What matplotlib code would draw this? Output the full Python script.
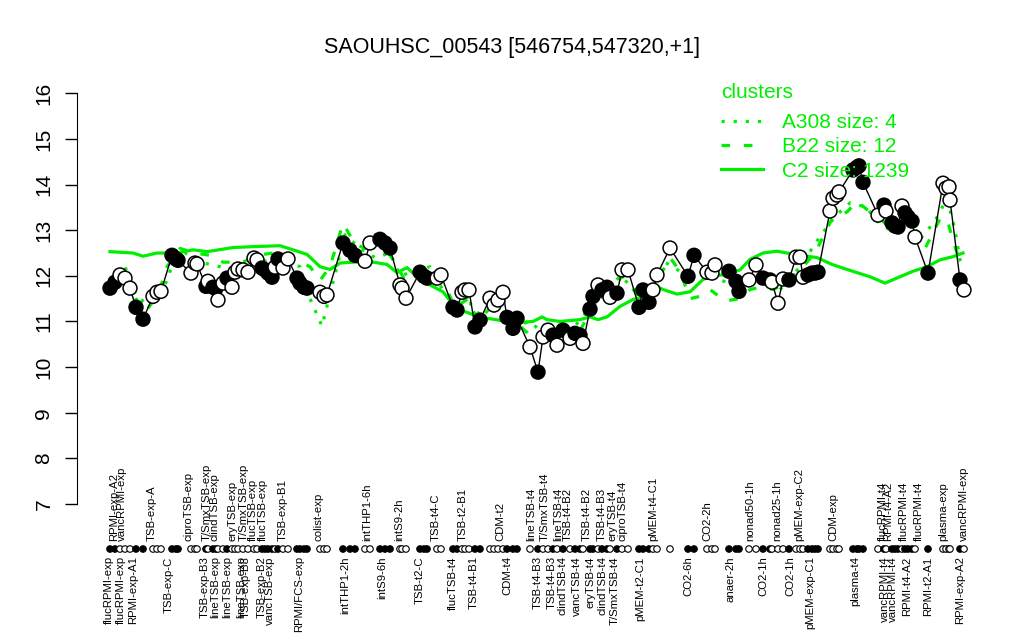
import matplotlib.pyplot as plt
from matplotlib.lines import Line2D

plt.rcParams['font.family'] = ['Liberation Sans', 'DejaVu Sans']

GREEN = '#00EE00'

title = "SAOUHSC_00543 [546754,547320,+1]"

# sample positions along the x axis, expression values, filled (1) or open (0) marker
pos = [110, 115, 120, 125, 130, 136, 143, 153, 157, 161, 172, 176, 178, 191, 195, 197,
       206, 208, 213, 216, 218, 223, 227, 232, 235, 238, 243, 248, 254, 257, 262, 265,
       268, 272, 275, 278, 283, 288, 297, 300, 304, 307, 320, 324, 327,
       343, 350, 355, 365, 370, 380, 385, 390, 400, 402, 406, 420, 424, 427, 437, 441,
       453, 457, 462, 465, 469, 475, 480, 490, 494, 498, 503, 507, 513, 517, 530, 538,
       543, 548, 553, 557, 563, 570, 575, 580, 583, 590, 593, 598, 602, 607, 610, 617,
       622, 628, 639, 643, 649, 653, 657, 670, 688, 694, 707, 712, 715, 729, 736, 739,
       749, 756, 763, 770,
       772, 778, 783, 789, 796, 800, 803, 808, 812, 815, 818, 830, 833, 837, 839, 853,
       857, 859, 863, 878, 884, 886, 892, 895, 898, 902, 905, 908, 912, 915, 928, 943,
       946, 949, 950, 960, 964]

expr = [11.73, 11.86, 12.02, 11.95, 11.73, 11.31, 11.05, 11.55, 11.64, 11.66, 12.45, 12.37, 12.34, 12.06, 12.28, 12.26,
        11.77, 11.88, 11.75, 11.73, 11.47, 11.84, 11.95, 11.75, 12.08, 12.15, 12.13, 12.08, 12.39, 12.35, 12.17, 12.13,
        12.06, 11.97, 12.19, 12.37, 12.17, 12.37, 11.95, 11.84, 11.75, 11.73, 11.64, 11.55, 11.58,
        12.72, 12.56, 12.45, 12.32, 12.72, 12.80, 12.72, 12.61, 11.80, 11.73, 11.51, 12.08, 11.99, 11.95, 11.95, 12.02,
        11.31, 11.25, 11.64, 11.69, 11.69, 10.88, 11.03, 11.51, 11.36, 11.47, 11.64, 11.09, 10.85, 11.07, 10.44, 9.89,
        10.66, 10.81, 10.70, 10.48, 10.81, 10.63, 10.74, 10.70, 10.52, 11.27, 11.55, 11.80, 11.69, 11.75, 11.53, 11.62,
        12.13, 12.13, 11.31, 11.69, 11.42, 11.69, 12.02, 12.61, 11.99, 12.45, 12.08, 12.06, 12.24, 12.10, 11.88, 11.66,
        11.91, 12.24, 11.95, 11.91,
        11.86, 11.40, 11.93, 11.91, 12.41, 12.41, 11.97, 12.02, 12.06, 12.06, 12.08, 13.42, 13.70, 13.77, 13.84, 14.32,
        14.38, 14.41, 14.05, 13.33, 13.55, 13.42, 13.16, 13.09, 13.07, 13.53, 13.38, 13.29, 13.20, 12.85, 12.06, 14.03,
        13.92, 13.95, 13.66, 11.91, 11.69]

filled = [1, 1, 0, 0, 0, 1, 1, 0, 0, 0, 1, 1, 1, 0, 0, 0,
          1, 0, 1, 1, 0, 0, 1, 0, 0, 0, 0, 0, 0, 0, 1, 1,
          1, 1, 0, 1, 0, 0, 1, 1, 1, 1, 0, 0, 0,
          1, 1, 1, 0, 0, 1, 1, 1, 0, 0, 0, 1, 1, 1, 0, 0,
          1, 1, 0, 0, 0, 1, 1, 0, 0, 0, 0, 1, 1, 1, 0, 1,
          0, 0, 1, 0, 1, 0, 1, 1, 0, 1, 1, 0, 1, 1, 0, 1,
          0, 0, 1, 1, 1, 0, 0, 0, 1, 1, 0, 0, 0, 1, 1, 1,
          0, 0, 1, 1,
          0, 0, 0, 1, 0, 0, 0, 1, 1, 1, 1, 0, 0, 0, 0, 1,
          1, 1, 1, 0, 1, 0, 1, 1, 1, 0, 1, 1, 1, 0, 1, 0,
          0, 0, 0, 1, 0]

# cluster profiles
c2_x = [110, 133, 143, 157, 177, 193, 207, 233, 253, 280, 293, 307, 320, 330, 340, 353, 373, 387,
        397, 407, 417, 430, 443, 457, 467, 480, 493, 507, 520, 533, 542, 547, 560, 580, 590, 598,
        607, 620, 633, 647, 657, 663, 677, 690, 703, 713, 727, 740, 750, 763, 777, 797, 817, 832,
        847, 857, 870, 885, 900, 913, 927, 940, 953, 963]
c2_y = [12.53, 12.50, 12.43, 12.50, 12.50, 12.57, 12.53, 12.62, 12.64, 12.66, 12.57, 12.47, 12.20, 12.14,
        12.28, 12.30, 12.30, 12.25, 12.07, 12.18, 11.98, 11.80, 11.65, 11.26, 11.20, 11.09, 11.05, 11.00,
        10.98, 11.00, 11.10, 11.04, 11.00, 11.04, 11.10, 11.04, 11.10, 11.33, 11.48, 11.55, 11.77, 11.70,
        11.60, 11.65, 11.92, 12.00, 12.03, 12.13, 12.36, 12.50, 12.54, 12.46, 12.40, 12.25, 12.14, 12.07,
        11.98, 11.84, 11.98, 12.10, 12.20, 12.35, 12.42, 12.50]

b22_x = [110, 120, 130, 136, 145, 155, 163, 167, 180, 195, 210, 223, 243, 257, 273, 290, 300, 310,
         320, 330, 343, 355, 365, 375, 385, 395, 405, 418, 430, 445, 455, 468, 478, 490, 505, 515,
         530, 540, 550, 565, 580, 590, 600, 610, 622, 630, 640, 650, 660, 670, 680, 690, 700, 710,
         725, 740, 750, 760, 773, 787, 803, 815, 832, 847, 857, 870, 883, 893, 910, 925, 940, 947,
         952, 957, 965]
b22_y = [11.9, 12.1, 11.8, 11.5, 11.2, 11.5, 11.9, 12.2, 12.6, 12.5, 12.45, 12.3, 12.3, 12.45, 12.5, 12.4,
         12.3, 12.2, 11.9, 12.2, 13.15, 12.7, 12.6, 12.9, 12.6, 12.3, 11.9, 12.1, 11.9, 11.8, 11.3, 11.5,
         11.0, 11.3, 11.2, 11.0, 10.7, 10.6, 10.8, 10.8, 10.8, 11.2, 11.6, 11.6, 12.0, 11.8, 11.5, 11.6,
         12.0, 12.4, 12.1, 11.5, 11.55, 11.7, 11.45, 11.5, 11.7, 11.75, 11.7, 11.85, 12.2, 12.5, 13.25,
         13.4, 13.63, 13.4, 13.2, 12.95, 13.1, 12.6, 13.25, 13.25, 12.85, 12.5, 12.3]

a308_x = [110, 125, 136, 145, 160, 170, 185, 200, 220, 240, 260, 280, 300, 310, 318, 322, 330, 345,
          360, 375, 390, 400, 415, 430, 445, 460, 470, 485, 500, 515, 530, 545, 560, 575, 590, 605,
          620, 635, 650, 665, 680, 700, 720, 740, 760, 780, 800, 820, 835, 850, 867, 875, 890, 913,
          920, 935, 947, 955, 960, 965]
a308_y = [11.8, 12.2, 11.6, 11.4, 11.5, 12.1, 12.5, 12.3, 12.2, 12.1, 12.3, 12.4, 12.2, 11.5, 11.1, 10.9,
          11.6, 12.9, 12.6, 12.4, 12.5, 12.0, 12.1, 12.2, 11.6, 11.4, 11.4, 11.0, 11.4, 10.9, 11.0, 10.7,
          10.9, 10.9, 11.3, 11.6, 12.0, 11.7, 11.7, 12.3, 12.1, 12.1, 11.9, 11.8, 11.9, 11.7, 12.2, 12.86,
          13.3, 13.6, 13.5, 13.23, 13.0, 13.17, 12.8, 13.2, 13.7, 13.0, 12.35, 12.2]

# sample names written above the strip and below it
top_x = [114, 122, 152, 189, 207, 215, 232, 244, 253, 263, 283, 319, 367, 399, 436, 463, 500,
         531, 545, 558, 568, 587, 602, 612, 622, 653, 707, 750, 777, 799, 833, 883, 888, 904,
         919, 943, 964]
top_labels = ['RPMI-exp-A2', 'vancRPMI-exp', 'TSB-exp-A', 'ciproTSB-exp', 'T/SmxTSB-exp',
              'clindTSB-exp', 'eryTSB-exp', 'T/SmxTSB-exp', 'flucTSB-exp', 'flucTSB-exp',
              'TSB-exp-B1', 'colist-exp', 'intTHP1-6h', 'intS9-2h', 'TSB-t4-C', 'TSB-t2-B1',
              'CDM-t2', 'lineTSB-t4', 'T/SmxTSB-t4', 'lineTSB-t4', 'TSB-t4-B2', 'TSB-t4-B2',
              'TSB-t4-B3', 'eryTSB-t4', 'ciproTSB-t4', 'pMEM-t4-C1', 'CO2-2h', 'nonad50-1h',
              'nonad25-1h', 'pMEM-exp-C2', 'CDM-exp', 'flucRPMI-t4', 'RPMI-t4-A2', 'flucRPMI-t4',
              'flucRPMI-t4', 'plasma-exp', 'vancRPMI-exp']

bottom_x = [109, 121, 133, 169, 205, 215, 227, 241, 246, 262, 270, 299, 345, 382, 420, 453,
            474, 507, 538, 552, 563, 577, 590, 603, 615, 640, 688, 730, 763, 790, 810, 855,
            885, 893, 907, 928, 960]
bottom_labels = ['flucRPMI-exp', 'flucRPMI-exp', 'RPMI-exp-A1', 'TSB-exp-C', 'TSB-exp-B3',
                 'lineTSB-exp', 'lineTSB-exp', 'lineTSB-exp', 'TSB-exp-B3', 'TSB-exp-B2',
                 'vancTSB-exp', 'RPMI/FCS-exp', 'intTHP1-2h', 'intS9-6h', 'TSB-t2-C',
                 'flucTSB-t4', 'TSB-t4-B1', 'CDM-t4', 'TSB-t4-B3', 'TSB-t4-B3', 'clindTSB-t4',
                 'vancTSB-t4', 'eryTSB-t4', 'clindTSB-t4', 'T/SmxTSB-t4', 'pMEM-t2-C1', 'CO2-6h',
                 'anaer-2h', 'CO2-1h', 'CO2-1h', 'pMEM-exp-C1', 'plasma-t4', 'vancRPMI-t4',
                 'vancRPMI-t4', 'RPMI-t4-A2', 'RPMI-t2-A1', 'RPMI-exp-A2']


fig = plt.figure(figsize=(10.24, 6.4), dpi=100)
ax = fig.add_axes([77 / 1024, 1 - 520.4 / 640, 898 / 1024, 443.5 / 640])
ax.set_xlim(77, 975)
ax.set_ylim(6.64, 16.36)

# cluster lines
ax.plot(a308_x, a308_y, color=GREEN, lw=2.3, linestyle=(0, (1, 2.8)), zorder=2)
ax.plot(b22_x, b22_y, color=GREEN, lw=2.3, linestyle=(0, (2.7, 4.3)), zorder=2)
ax.plot(c2_x, c2_y, color=GREEN, lw=2.3, zorder=2)

# gene profile
ax.plot(pos, expr, color='black', lw=1, zorder=3)
face = ['black' if f else 'white' for f in filled]
ax.scatter(pos, expr, s=100, c=face, edgecolors='black', linewidths=1.1, zorder=4)

# strip of sample dots below the plot
tr = ax.get_xaxis_transform()
ax.scatter(pos, [-0.0645] * len(pos), s=22, c=face, edgecolors='black', linewidths=0.8,
           transform=tr, clip_on=False, zorder=4)
for x, t in zip(top_x, top_labels):
    ax.text(x, -0.046, t, transform=tr, rotation=90, ha='center', va='bottom', fontsize=8.2)
for x, t in zip(bottom_x, bottom_labels):
    ax.text(x, -0.081, t, transform=tr, rotation=90, ha='center', va='top', fontsize=8.2)

# axes styling
for s in ['top', 'right', 'bottom']:
    ax.spines[s].set_visible(False)
ax.spines['left'].set_bounds(7, 16)
ax.set_xticks([])
ax.set_yticks(range(7, 17))
ax.tick_params(axis='y', labelsize=15, length=9, width=1, pad=8)
plt.setp(ax.get_yticklabels(), rotation=90, va='center')

fig.text(0.5, 1 - 47 / 640, title, ha='center', va='center', fontsize=15.5)

handles = [Line2D([], [], color=GREEN, lw=2.3, linestyle=(0, (1, 2.8))),
           Line2D([], [], color=GREEN, lw=2.3, linestyle=(0, (2.7, 4.3))),
           Line2D([], [], color=GREEN, lw=2.3)]
leg = ax.legend(handles, ['A308 size: 4', 'B22 size: 12', 'C2 size: 1239'],
                title='clusters', loc='upper left', bbox_to_anchor=(721 / 1024, 1 - 83 / 640),
                bbox_transform=fig.transFigure, frameon=False, fontsize=15,
                title_fontsize=15, handlelength=2.0, handletextpad=0.95, labelspacing=0.25,
                borderpad=0, borderaxespad=0, alignment='left')
leg.get_title().set_color(GREEN)
leg._legend_box.sep = 8
for t in leg.get_texts():
    t.set_color(GREEN)

fig.savefig('out.png', dpi=100)
